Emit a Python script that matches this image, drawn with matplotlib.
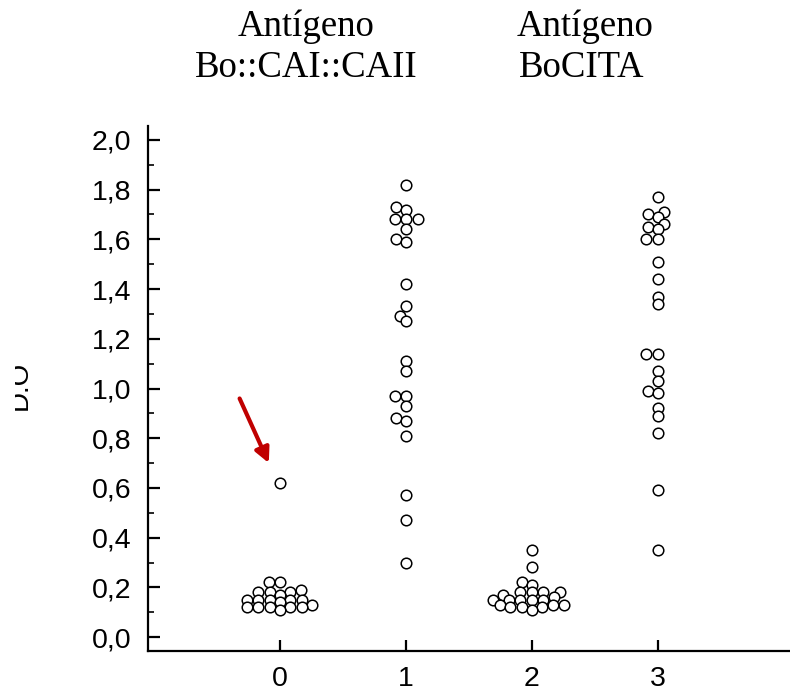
import numpy as np
import matplotlib.pyplot as plt
from matplotlib.ticker import MultipleLocator, FuncFormatter
from matplotlib.transforms import Bbox

# valores de D.O por grupo
grupo0 = [0.62, 0.22, 0.22, 0.19, 0.18, 0.18, 0.18, 0.17, 0.15, 0.15, 0.15, 0.15,
          0.15, 0.14, 0.13, 0.12, 0.12, 0.12, 0.12, 0.12, 0.11]
grupo1 = [1.82, 1.73, 1.72, 1.68, 1.68, 1.68, 1.64, 1.60, 1.59, 1.42, 1.33, 1.29,
          1.27, 1.11, 1.07, 0.97, 0.97, 0.93, 0.88, 0.87, 0.81, 0.57, 0.47, 0.30]
grupo2 = [0.35, 0.28, 0.22, 0.21, 0.18, 0.18, 0.18, 0.18, 0.17, 0.16, 0.15, 0.15,
          0.15, 0.15, 0.15, 0.13, 0.13, 0.13, 0.12, 0.12, 0.12, 0.11]
grupo3 = [1.77, 1.71, 1.70, 1.69, 1.66, 1.65, 1.64, 1.60, 1.60, 1.51, 1.44, 1.37,
          1.34, 1.14, 1.14, 1.07, 1.03, 0.99, 0.98, 0.92, 0.89, 0.82, 0.59, 0.35]
grupos = [0, 1, 2, 3]
datos = [grupo0, grupo1, grupo2, grupo3]

titulo1 = ['Antígeno', 'Bo::CAI::CAII']
titulo2 = ['Antígeno', 'BoCITA']
etiqueta_y = 'D.O'


def swarm(ax, xc, vals, hx, vy):
    # reparto tipo beeswarm en pixeles (choque eliptico, se permite algo de solape vertical)
    pts = ax.transData.transform(np.column_stack([np.full(len(vals), xc), vals]))
    orden = np.argsort(pts[:, 1], kind='stable')
    puestos = []
    xs = np.empty(len(vals))
    for i in orden:
        x0, y0 = pts[i]
        cands = [x0]
        for px, py in puestos:
            dy = y0 - py
            if abs(dy) < vy:
                dx = hx * np.sqrt(1 - (dy / vy) ** 2)
                cands += [px - dx, px + dx]
        cands.sort(key=lambda c: abs(c - x0))
        for c in cands:
            if all(((c - px) / hx) ** 2 + ((y0 - py) / vy) ** 2 >= 1 - 1e-6 for px, py in puestos):
                break
        puestos.append((c, y0))
        xs[i] = c
    return ax.transData.inverted().transform(np.column_stack([xs, pts[:, 1]]))[:, 0]


fig = plt.figure(figsize=(7.9, 6.91), dpi=100)
ax = fig.add_axes([148 / 790, 1 - 651 / 691, 1 - 148 / 790, (651 - 126) / 691])
ax.set_xlim(-1.048, 4.048)
ax.set_ylim(-0.056, 2.056)

for g, vals in zip(grupos, datos):
    xs = swarm(ax, g, vals, 11.5, 6.0)
    ax.scatter(xs, vals, s=58, facecolor='white', edgecolor='black', linewidth=1.1, zorder=3)

ax.spines['top'].set_visible(False)
ax.spines['right'].set_visible(False)
ax.spines['left'].set_linewidth(1.6)
ax.spines['bottom'].set_linewidth(1.6)

ax.set_xticks(grupos)
ax.yaxis.set_major_locator(MultipleLocator(0.2))
ax.yaxis.set_minor_locator(MultipleLocator(0.1))
ax.yaxis.set_major_formatter(FuncFormatter(lambda v, p: f'{v:.1f}'.replace('.', ',')))
ax.tick_params(axis='y', which='major', direction='in', length=8.5, width=1.6, pad=12,
               labelsize=20.5)
ax.tick_params(axis='y', which='minor', direction='in', length=4.5, width=1.2)
ax.tick_params(axis='x', direction='in', length=8, width=1.6, pad=11, labelsize=20.5)
for lab in ax.get_xticklabels() + ax.get_yticklabels():
    lab.set_fontfamily('Liberation Sans')

ax.annotate('', xy=(-0.08, 0.69), xytext=(-0.33, 0.97),
            arrowprops=dict(arrowstyle='-|>', color='#C00000', lw=3, mutation_scale=22))

# la etiqueta del eje y aparece recortada por la izquierda en el original
ylab = fig.text(20 / 790, 1 - 385 / 691, etiqueta_y, rotation=90, ha='center', va='center',
                fontsize=20, family='Liberation Sans')
ylab.set_clip_box(Bbox.from_extents(15, 0, 790, 691))
ylab.set_clip_on(True)

fig.text(306 / 790, 1 - 36 / 691, titulo1[0], ha='center', va='baseline', fontsize=26.5,
         family='Liberation Serif')
fig.text(306 / 790, 1 - 77 / 691, titulo1[1], ha='center', va='baseline', fontsize=26.5,
         family='Liberation Serif')
fig.text(585 / 790, 1 - 36 / 691, titulo2[0], ha='center', va='baseline', fontsize=26.5,
         family='Liberation Serif')
fig.text(582 / 790, 1 - 77 / 691, titulo2[1], ha='center', va='baseline', fontsize=26.5,
         family='Liberation Serif')

fig.savefig('out.png', dpi=100)
